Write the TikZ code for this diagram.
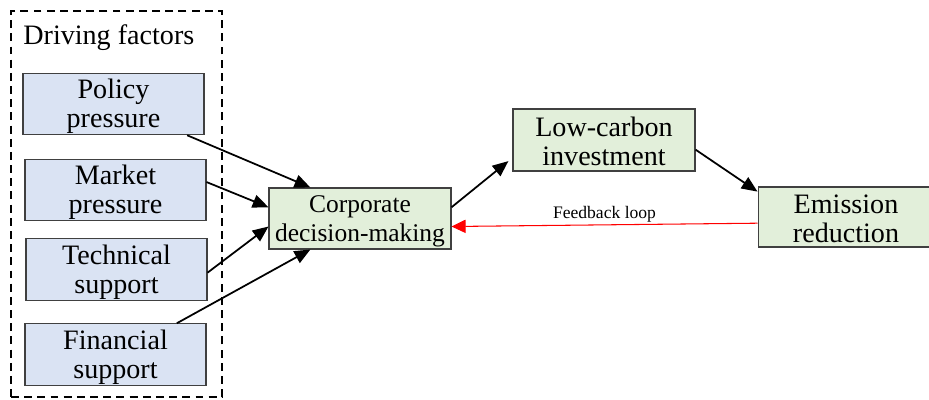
\documentclass[tikz,border=0pt]{standalone}
\usepackage{fontspec}
\setmainfont{Liberation Serif}
\usepackage{tikz}
\usetikzlibrary{arrows.meta}
\definecolor{factorblue}{RGB}{218,227,243}
\definecolor{stagegreen}{RGB}{226,239,218}

\begin{document}
\begin{tikzpicture}[x=0.02cm,y=-0.02cm,
		factor/.style={draw=black!75,fill=factorblue,line width=0.6pt,minimum width=3.62cm,minimum height=1.23cm,inner sep=0pt,align=center,font=\fontsize{16}{16.5}\selectfont},
		stage/.style={factor,fill=stagegreen},
		link/.style={-{Triangle[length=9pt,width=7.5pt]},line width=1pt}]
			\useasboundingbox (0,0) rectangle (929,399);
			\node[draw,dash pattern=on 4.5pt off 3pt,line width=1.4pt,minimum width=4.22cm,minimum height=7.72cm,inner sep=0pt] (frame) at (116.5,204) {};
			\node[anchor=base west,inner sep=0pt,font=\fontsize{16}{16}\selectfont] (title) at (23,44) {Driving factors};
			\foreach \n/\x/\y/\a/\b in {policy/113.5/104/Policy/pressure,market/115.5/190/Market/pressure,technical/116.5/269.5/Technical/support,financial/115.5/354.5/Financial/support}
			\node[factor] (\n) at (\x,\y) {\rule{0pt}{14pt}\a\\\b};
			\node[stage,minimum width=3.64cm,minimum height=1.22cm,font=\fontsize{14.5}{16.5}\selectfont] (corp) at (360,218.5) {\rule{0pt}{13pt}Corporate\\decision-making};
			\node[stage,minimum width=3.64cm,minimum height=1.24cm] (low) at (604,140) {\rule{0pt}{13pt}Low-carbon\\investment};
			\node[stage,minimum width=3.52cm,minimum height=1.2cm] (emission) at (846,217) {\rule{0pt}{13pt}Emission\\reduction};
			\draw[link] (policy.-23) -- (corp.148);
			\draw[link] (market.5) -- (corp.173);
			\draw[link] (technical.-2) -- (corp.185);
			\draw[link] (financial.27) -- (corp.212);
			\draw[link,shorten >=3pt] (corp.7) -- (low.191);
			\draw[link] (low.-6) -- (emission.164);
			\draw[red,line width=0.6pt,-{Triangle[length=8pt,width=7.5pt]}] (emission.184.5) -- (corp.-5) node[midway,above,inner sep=1pt,black,font=\fontsize{10}{12}\selectfont] (loop) {Feedback loop};
	\end{tikzpicture}
\end{document}
